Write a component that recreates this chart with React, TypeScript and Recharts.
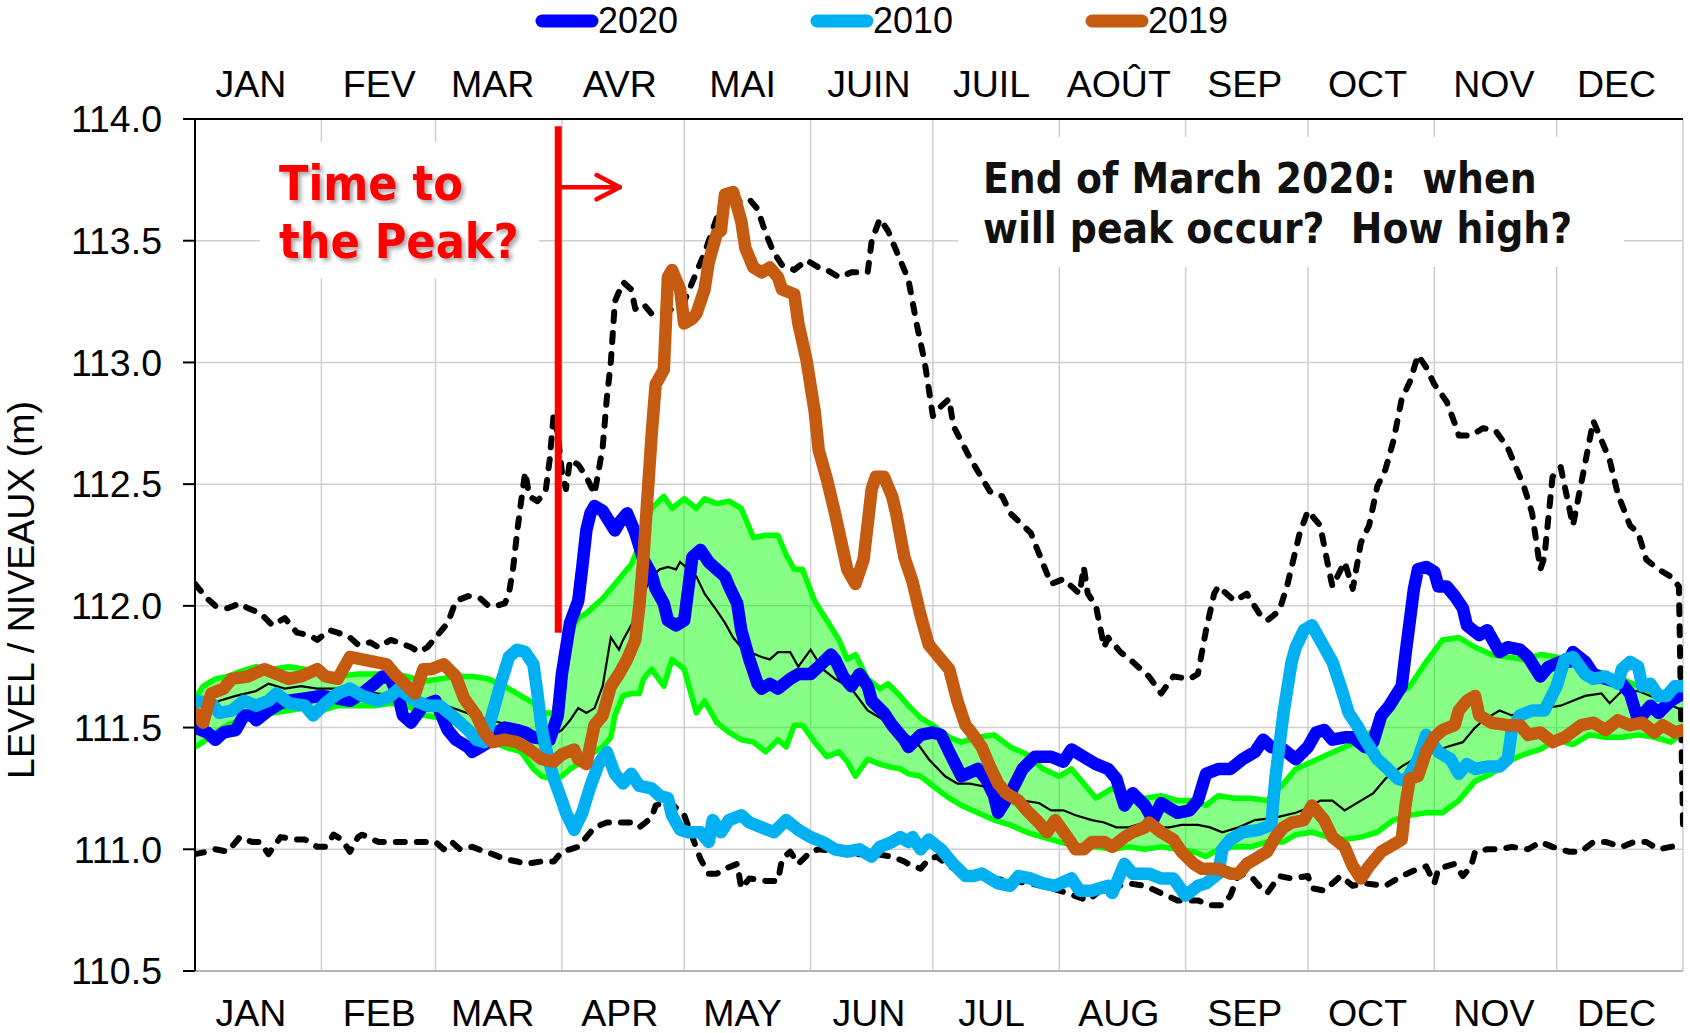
import {
  ComposedChart,
  Line,
  Area,
  XAxis,
  YAxis,
  CartesianGrid,
  ReferenceLine,
} from 'recharts'

// day-of-year axis
const monthStarts = [0, 31, 59, 90, 120, 151, 181, 212, 243, 273, 304, 334, 365]
// where the month names sit (roughly mid-month)
const labelDays = [13.7, 45.2, 73, 104.2, 134.3, 165.3, 195.4, 226.6, 257.5, 287.6, 318.6, 348.7]
const monthsEn = ['JAN', 'FEB', 'MAR', 'APR', 'MAY', 'JUN', 'JUL', 'AUG', 'SEP', 'OCT', 'NOV', 'DEC']
const monthsFr = ['JAN', 'FEV', 'MAR', 'AVR', 'MAI', 'JUIN', 'JUIL', 'AOÛT', 'SEP', 'OCT', 'NOV', 'DEC']
const levelTicks = [110.5, 111, 111.5, 112, 112.5, 113, 113.5, 114]

// [day, level m]
const maxLevel: [number, number][] = [
  [0, 112.09], [3, 112.03], [5, 112.0], [8, 111.99], [11, 112.01], [13, 111.99], [16, 111.97], [19, 111.92],
  [22, 111.95], [25, 111.89], [28, 111.88], [30, 111.86], [33, 111.9], [35, 111.89], [38, 111.87], [40, 111.84],
  [43, 111.85], [45, 111.83], [48, 111.86], [50, 111.85], [53, 111.83], [55, 111.81], [57, 111.83], [59, 111.87],
  [62, 111.93], [64, 112.02], [67, 112.04], [70, 112.03], [72, 112.0], [74, 112.0], [76, 112.01], [77, 112.05],
  [78, 112.15], [79, 112.3], [80, 112.43], [81, 112.55], [82, 112.45], [84, 112.43], [86, 112.47], [87, 112.6],
  [88, 112.79], [89, 112.7], [90, 112.55], [91, 112.48], [92, 112.6], [94, 112.58], [96, 112.53], [98, 112.46],
  [100, 112.65], [101, 112.85], [102, 113.0], [103, 113.25], [105, 113.33], [107, 113.3], [108, 113.22],
  [110, 113.24], [112, 113.2], [115, 113.2], [120, 113.25], [125, 113.45], [130, 113.69], [133, 113.66],
  [136, 113.67], [138, 113.63], [140, 113.53], [142, 113.45], [144, 113.4], [147, 113.38], [150, 113.42],
  [153, 113.39], [155, 113.38], [158, 113.35], [161, 113.37], [165, 113.37], [166, 113.5], [168, 113.59],
  [170, 113.54], [172, 113.46], [175, 113.34], [177, 113.16], [179, 113.0], [181, 112.78], [183, 112.82],
  [185, 112.85], [186, 112.74], [190, 112.61], [195, 112.47], [198, 112.45], [200, 112.38], [205, 112.3],
  [210, 112.09], [213, 112.11], [215, 112.08], [217, 112.05], [218, 112.16], [219, 112.05], [221, 112.0],
  [223, 111.83], [224, 111.87], [227, 111.81], [230, 111.77], [234, 111.71], [237, 111.64], [240, 111.71],
  [244, 111.7], [246, 111.72], [248, 111.9], [250, 112.05], [251, 112.08], [255, 112.02], [258, 112.05],
  [261, 111.97], [263, 111.94], [266, 111.98], [268, 112.09], [269, 112.16], [271, 112.3], [273, 112.39],
  [276, 112.33], [278, 112.16], [279, 112.08], [282, 112.18], [284, 112.07], [286, 112.26], [288, 112.33],
  [290, 112.49], [292, 112.56], [294, 112.68], [296, 112.85], [298, 112.92], [300, 113.03], [302, 112.98],
  [304, 112.91], [307, 112.84], [309, 112.75], [310, 112.7], [313, 112.7], [316, 112.73], [319, 112.72],
  [322, 112.65], [324, 112.57], [326, 112.49], [328, 112.38], [330, 112.15], [331, 112.2], [333, 112.53],
  [335, 112.57], [337, 112.41], [338, 112.33], [340, 112.5], [343, 112.76], [345, 112.68], [347, 112.6],
  [349, 112.46], [352, 112.33], [354, 112.3], [356, 112.19], [359, 112.15], [362, 112.12], [364, 112.08],
  [365, 111.1],
]

const minLevel: [number, number][] = [
  [0, 110.98], [3, 110.99], [5, 111.0], [8, 110.99], [11, 111.05], [14, 111.03], [16, 111.03], [18, 110.98],
  [21, 111.05], [25, 111.04], [27, 111.04], [30, 111.01], [32, 111.01], [34, 111.06], [36, 111.04], [38, 110.99],
  [40, 111.05], [41, 111.06], [45, 111.03], [50, 111.03], [56, 111.03], [59, 111.03], [61, 111.0], [63, 111.03],
  [65, 111.0], [68, 111.01], [71, 110.99], [73, 110.98], [76, 110.96], [79, 110.95], [81, 110.94], [85, 110.95],
  [88, 110.95], [90, 110.99], [94, 111.01], [96, 111.05], [98, 111.09], [101, 111.11], [104, 111.11],
  [107, 111.11], [109, 111.09], [112, 111.13], [113, 111.18], [116, 111.2], [120, 111.14], [122, 111.05],
  [124, 110.96], [126, 110.9], [128, 110.9], [130, 110.92], [133, 110.94], [134, 110.84], [136, 110.88],
  [140, 110.87], [143, 110.87], [144, 110.96], [146, 110.99], [148, 110.94], [151, 110.99], [153, 111.0],
  [158, 110.99], [163, 110.98], [167, 110.98], [171, 110.97], [174, 110.95], [175, 110.94], [178, 110.92],
  [180, 110.96], [182, 110.97], [185, 110.93], [190, 110.9], [195, 110.88], [200, 110.87], [205, 110.86],
  [210, 110.84], [214, 110.82], [219, 110.79], [222, 110.83], [229, 110.86], [233, 110.85], [237, 110.82],
  [241, 110.79], [244, 110.79], [246, 110.79], [249, 110.77], [252, 110.77], [254, 110.81], [256, 110.9],
  [259, 110.89], [261, 110.85], [263, 110.82], [266, 110.89], [269, 110.88], [273, 110.89], [274, 110.84],
  [277, 110.83], [281, 110.89], [284, 110.85], [287, 110.86], [292, 110.85], [296, 110.89], [300, 110.92],
  [302, 110.93], [304, 110.86], [305, 110.92], [309, 110.94], [311, 110.89], [313, 110.93], [314, 110.99],
  [317, 111.0], [320, 111.0], [323, 111.01], [327, 111.0], [330, 111.03], [333, 111.01], [337, 110.99],
  [340, 110.99], [343, 111.03], [346, 111.03], [350, 111.01], [353, 111.03], [356, 111.03], [359, 111.0],
  [362, 111.01], [365, 111.02],
]

const medianLevel: [number, number][] = [
  [0, 111.52], [3, 111.58], [6, 111.61], [10, 111.63], [15, 111.65], [18, 111.68], [22, 111.66], [26, 111.67],
  [30, 111.66], [35, 111.66], [40, 111.65], [45, 111.64], [50, 111.63], [55, 111.61], [60, 111.6], [65, 111.57],
  [70, 111.54], [75, 111.52], [80, 111.5], [85, 111.47], [88, 111.47], [90, 111.49], [92, 111.53], [94, 111.58],
  [96, 111.56], [98, 111.58], [100, 111.67], [102, 111.87], [104, 111.82], [105, 111.86], [107, 111.92],
  [110, 112.05], [112, 112.12], [114, 112.15], [116, 112.16], [118, 112.15], [119, 112.18], [121, 112.15],
  [123, 112.12], [125, 112.05], [128, 111.98], [130, 111.93], [132, 111.87], [134, 111.83], [136, 111.81],
  [139, 111.79], [141, 111.78], [143, 111.81], [146, 111.81], [148, 111.75], [151, 111.82], [154, 111.74],
  [157, 111.7], [161, 111.66], [165, 111.57], [169, 111.53], [173, 111.49], [177, 111.44], [180, 111.37],
  [184, 111.3], [187, 111.27], [190, 111.27], [193, 111.26], [198, 111.23], [203, 111.2], [207, 111.19],
  [210, 111.16], [213, 111.16], [216, 111.14], [220, 111.12], [223, 111.11], [226, 111.09], [229, 111.09],
  [233, 111.11], [236, 111.09], [239, 111.09], [242, 111.1], [246, 111.1], [249, 111.09], [252, 111.07],
  [256, 111.09], [260, 111.12], [265, 111.13], [270, 111.15], [273, 111.17], [276, 111.2], [279, 111.2],
  [282, 111.16], [286, 111.2], [289, 111.23], [292, 111.29], [296, 111.34], [300, 111.38], [304, 111.4],
  [307, 111.42], [311, 111.44], [314, 111.5], [316, 111.53], [320, 111.57], [323, 111.55], [327, 111.57],
  [331, 111.58], [335, 111.59], [338, 111.61], [341, 111.63], [345, 111.64], [347, 111.6], [350, 111.65],
  [354, 111.65], [357, 111.63], [361, 111.6], [365, 111.57],
]

// percentile band (upper / lower) on a shared day grid
const bandDays = [
  0, 2, 5, 8, 11, 15, 19, 23, 27, 31, 35, 40, 44, 48, 52, 56, 60, 64, 68, 72, 76, 80, 83, 85, 88, 90, 92, 94, 96,
  98, 100, 102, 103, 105, 107, 109, 110, 112, 115, 117, 120, 123, 125, 128, 131, 134, 137, 140, 143, 145, 147,
  149, 152, 155, 158, 160, 162, 165, 168, 170, 173, 175, 178, 181, 185, 188, 192, 196, 200, 204, 208, 212, 215,
  218, 221, 225, 229, 233, 237, 241, 245, 248, 251, 255, 259, 263, 267, 270, 274, 278, 282, 286, 290, 294, 298,
  302, 306, 310, 314, 318, 322, 326, 330, 334, 338, 342, 346, 350, 354, 358, 362, 365,
]
const bandUpper = [
  111.62, 111.67, 111.7, 111.71, 111.73, 111.75, 111.74, 111.75, 111.74, 111.72, 111.71, 111.72, 111.72, 111.72,
  111.71, 111.69, 111.7, 111.71, 111.71, 111.7, 111.67, 111.63, 111.6, 111.56, 111.56, 111.7, 111.89, 111.95,
  111.97, 112.0, 112.03, 112.07, 112.09, 112.13, 112.17, 112.25, 112.3, 112.4, 112.45, 112.4, 112.44, 112.4,
  112.44, 112.42, 112.43, 112.4, 112.28, 112.29, 112.29, 112.21, 112.15, 112.15, 112.02, 111.94, 111.86, 111.78,
  111.8, 111.7, 111.66, 111.68, 111.63, 111.59, 111.54, 111.51, 111.46, 111.44, 111.46, 111.47, 111.42, 111.39,
  111.33, 111.3, 111.33, 111.27, 111.21, 111.25, 111.21, 111.21, 111.22, 111.2, 111.2, 111.18, 111.22, 111.21,
  111.21, 111.2, 111.27, 111.33, 111.36, 111.39, 111.42, 111.45, 111.5, 111.62, 111.67, 111.77, 111.86, 111.87,
  111.83, 111.8, 111.79, 111.78, 111.8, 111.79, 111.76, 111.74, 111.72, 111.7, 111.67, 111.64, 111.61, 111.62,
]
const bandLower = [
  111.42, 111.44, 111.48, 111.51, 111.53, 111.55, 111.56, 111.57, 111.58, 111.57, 111.59, 111.59, 111.59, 111.6,
  111.59, 111.55, 111.54, 111.52, 111.49, 111.45, 111.42, 111.4, 111.33, 111.3, 111.29, 111.3, 111.33, 111.35,
  111.38, 111.4, 111.42, 111.46, 111.55, 111.63, 111.64, 111.64, 111.7, 111.74, 111.67, 111.78, 111.74, 111.56,
  111.61, 111.52, 111.48, 111.45, 111.44, 111.4, 111.45, 111.42, 111.51, 111.51, 111.44, 111.38, 111.4, 111.36,
  111.3, 111.37, 111.35, 111.34, 111.33, 111.31, 111.3, 111.26, 111.21, 111.18, 111.15, 111.12, 111.1, 111.07,
  111.05, 111.03, 111.02, 111.01, 111.01, 111.0, 111.01, 111.0, 111.01, 111.0, 110.99, 110.97, 111.0, 111.01,
  111.01, 111.03, 111.03, 111.06, 111.07, 111.05, 111.04, 111.05, 111.07, 111.12, 111.14, 111.15, 111.15, 111.2,
  111.28, 111.31, 111.36, 111.39, 111.41, 111.45, 111.43, 111.47, 111.46, 111.46, 111.47, 111.46, 111.44, 111.48,
]

const level2020: [number, number][] = [
  [0, 111.5], [3, 111.48], [5, 111.45], [7, 111.48], [10, 111.49], [12, 111.55], [14, 111.55], [15, 111.53],
  [18, 111.57], [21, 111.6], [23, 111.61], [27, 111.62], [31, 111.63], [35, 111.62], [38, 111.61], [41, 111.64],
  [44, 111.68], [46, 111.71], [48, 111.7], [50, 111.62], [51, 111.55], [53, 111.52], [56, 111.59], [59, 111.61],
  [62, 111.49], [64, 111.45], [67, 111.42], [68, 111.4], [70, 111.42], [72, 111.44], [74, 111.48], [76, 111.5],
  [79, 111.49], [81, 111.48], [83, 111.46], [87, 111.45], [89, 111.55], [90, 111.72], [92, 111.93], [94, 112.02],
  [95, 112.16], [96, 112.31], [97, 112.38], [98, 112.41], [100, 112.39], [103, 112.31], [104, 112.34],
  [106, 112.38], [108, 112.3], [110, 112.19], [112, 112.13], [113, 112.07], [115, 112.01], [116, 111.94],
  [118, 111.92], [120, 111.94], [121, 112.07], [122, 112.2], [124, 112.23], [126, 112.18], [128, 112.15],
  [130, 112.12], [131, 112.08], [133, 112.01], [134, 111.9], [136, 111.78], [138, 111.68], [139, 111.66],
  [141, 111.68], [143, 111.66], [146, 111.7], [148, 111.72], [151, 111.72], [153, 111.75], [156, 111.8],
  [157, 111.78], [159, 111.71], [161, 111.67], [163, 111.72], [165, 111.67], [166, 111.61], [169, 111.56],
  [171, 111.51], [174, 111.45], [175, 111.42], [178, 111.47], [181, 111.48], [183, 111.47], [185, 111.4],
  [188, 111.3], [192, 111.33], [194, 111.29], [196, 111.22], [197, 111.15], [200, 111.23], [203, 111.33],
  [206, 111.38], [210, 111.38], [213, 111.36], [215, 111.41], [218, 111.38], [221, 111.35], [224, 111.33],
  [226, 111.29], [228, 111.18], [230, 111.23], [233, 111.18], [235, 111.12], [237, 111.19], [241, 111.15],
  [244, 111.16], [246, 111.2], [248, 111.31], [251, 111.33], [254, 111.33], [257, 111.37], [260, 111.4],
  [262, 111.45], [264, 111.42], [267, 111.41], [270, 111.37], [273, 111.42], [275, 111.48], [277, 111.49],
  [279, 111.45], [282, 111.46], [284, 111.46], [287, 111.42], [289, 111.44], [291, 111.55], [293, 111.59],
  [296, 111.67], [297, 111.81], [298, 111.94], [299, 112.07], [300, 112.15], [302, 112.16], [304, 112.14],
  [305, 112.08], [307, 112.08], [309, 112.04], [311, 111.99], [312, 111.92], [315, 111.88], [317, 111.9],
  [320, 111.81], [322, 111.83], [325, 111.82], [327, 111.79], [330, 111.71], [332, 111.75], [335, 111.77],
  [337, 111.77], [338, 111.81], [341, 111.77], [343, 111.72], [346, 111.7], [350, 111.68], [352, 111.64],
  [354, 111.53], [357, 111.59], [359, 111.56], [362, 111.61], [365, 111.64],
]

const level2010: [number, number][] = [
  [0, 111.61], [4, 111.6], [6, 111.56], [9, 111.57], [12, 111.61], [15, 111.59], [18, 111.61], [20, 111.64],
  [23, 111.6], [27, 111.59], [29, 111.55], [32, 111.6], [35, 111.64], [38, 111.66], [41, 111.63], [45, 111.61],
  [48, 111.63], [50, 111.66], [54, 111.61], [57, 111.59], [60, 111.59], [63, 111.55], [67, 111.49], [69, 111.45],
  [71, 111.44], [73, 111.56], [75, 111.68], [77, 111.79], [79, 111.82], [81, 111.81], [83, 111.76], [84, 111.64],
  [85, 111.5], [86, 111.42], [88, 111.29], [90, 111.2], [91, 111.15], [93, 111.08], [95, 111.15], [97, 111.26],
  [99, 111.35], [101, 111.4], [103, 111.31], [105, 111.27], [107, 111.31], [109, 111.26], [112, 111.25],
  [114, 111.22], [116, 111.21], [117, 111.14], [119, 111.08], [121, 111.07], [124, 111.07], [126, 111.03],
  [127, 111.12], [129, 111.07], [131, 111.12], [134, 111.14], [136, 111.11], [139, 111.09], [142, 111.07],
  [145, 111.12], [148, 111.08], [151, 111.05], [154, 111.03], [157, 111.0], [160, 110.99], [163, 111.0],
  [166, 110.97], [168, 111.01], [171, 111.03], [173, 111.05], [175, 111.03], [176, 111.05], [178, 111.0],
  [180, 111.04], [183, 111.0], [186, 110.94], [189, 110.89], [191, 110.89], [193, 110.9], [197, 110.86],
  [200, 110.85], [202, 110.89], [205, 110.88], [208, 110.86], [211, 110.85], [215, 110.88], [217, 110.83],
  [220, 110.83], [224, 110.85], [225, 110.82], [228, 110.94], [230, 110.9], [234, 110.9], [237, 110.88],
  [240, 110.88], [243, 110.81], [246, 110.85], [248, 110.86], [251, 110.9], [252, 111.0], [254, 111.04],
  [257, 111.07], [261, 111.08], [264, 111.1], [265, 111.29], [267, 111.56], [269, 111.77], [270, 111.83],
  [272, 111.9], [274, 111.92], [276, 111.86], [279, 111.77], [281, 111.67], [283, 111.56], [285, 111.51],
  [287, 111.45], [290, 111.37], [292, 111.34], [295, 111.29], [297, 111.28], [300, 111.37], [302, 111.47],
  [305, 111.4], [308, 111.37], [310, 111.31], [312, 111.35], [314, 111.33], [317, 111.34], [320, 111.34],
  [322, 111.37], [323, 111.49], [325, 111.55], [328, 111.57], [331, 111.57], [334, 111.67], [336, 111.78],
  [338, 111.79], [341, 111.72], [343, 111.7], [346, 111.71], [349, 111.68], [350, 111.74], [352, 111.77],
  [354, 111.75], [355, 111.67], [357, 111.68], [359, 111.63], [361, 111.63], [363, 111.67], [365, 111.67],
]

const level2019: [number, number][] = [
  [0, 111.56], [2, 111.52], [4, 111.64], [7, 111.66], [9, 111.7], [13, 111.71], [17, 111.74], [20, 111.72],
  [23, 111.7], [26, 111.71], [30, 111.74], [32, 111.71], [35, 111.7], [38, 111.79], [41, 111.78], [44, 111.77],
  [47, 111.76], [49, 111.72], [52, 111.67], [54, 111.64], [56, 111.74], [58, 111.74], [61, 111.76], [64, 111.71],
  [66, 111.62], [69, 111.55], [71, 111.48], [73, 111.44], [76, 111.45], [79, 111.44], [82, 111.41], [85, 111.37],
  [88, 111.36], [90, 111.39], [93, 111.41], [94, 111.37], [96, 111.35], [98, 111.51], [100, 111.55],
  [102, 111.67], [104, 111.72], [106, 111.78], [108, 111.86], [109, 112.0], [110, 112.2], [111, 112.45],
  [112, 112.7], [113, 112.91], [115, 112.97], [116, 113.35], [117, 113.38], [119, 113.3], [120, 113.16],
  [122, 113.18], [123, 113.2], [125, 113.3], [126, 113.41], [128, 113.53], [129, 113.54], [130, 113.69],
  [132, 113.7], [134, 113.58], [135, 113.47], [137, 113.39], [139, 113.37], [141, 113.39], [143, 113.35],
  [144, 113.3], [147, 113.28], [148, 113.16], [150, 113.01], [152, 112.8], [153, 112.64], [155, 112.52],
  [157, 112.38], [160, 112.15], [162, 112.09], [164, 112.19], [166, 112.48], [167, 112.53], [169, 112.53],
  [171, 112.45], [172, 112.38], [174, 112.2], [176, 112.1], [178, 111.96], [180, 111.84], [183, 111.78],
  [185, 111.74], [187, 111.61], [189, 111.51], [190, 111.49], [193, 111.42], [195, 111.34], [197, 111.27],
  [199, 111.23], [202, 111.2], [204, 111.16], [207, 111.11], [209, 111.07], [211, 111.12], [214, 111.05],
  [216, 111.0], [218, 111.0], [220, 111.03], [223, 111.03], [225, 111.01], [228, 111.05], [230, 111.07],
  [233, 111.09], [234, 111.11], [237, 111.07], [240, 111.04], [242, 110.99], [245, 110.94], [247, 110.92],
  [251, 110.92], [254, 110.9], [256, 110.9], [258, 110.94], [260, 110.96], [263, 110.99], [265, 111.05],
  [267, 111.09], [269, 111.11], [272, 111.12], [274, 111.18], [277, 111.12], [279, 111.05], [282, 111.01],
  [284, 110.93], [286, 110.88], [288, 110.93], [291, 110.99], [293, 111.01], [296, 111.04], [297, 111.19],
  [298, 111.29], [300, 111.3], [302, 111.4], [304, 111.46], [306, 111.49], [309, 111.51], [310, 111.57],
  [312, 111.61], [314, 111.63], [315, 111.55], [318, 111.52], [322, 111.51], [325, 111.51], [327, 111.47],
  [330, 111.48], [333, 111.44], [336, 111.46], [340, 111.51], [343, 111.52], [346, 111.49], [349, 111.53],
  [352, 111.51], [355, 111.52], [358, 111.48], [360, 111.51], [363, 111.48], [365, 111.49],
]

// "now" marker (end of March) and the arrow level
const markerDay = 89.1
const markerSpan = [111.89, 113.97]
const arrowLevel = 113.72
const arrowTipDay = 104.2

const years = [
  { name: '2020', color: '#0000ff', data: level2020 },
  { name: '2010', color: '#00b0f0', data: level2010 },
  { name: '2019', color: '#c55a11', data: level2019 },
]

const FONT = '"Liberation Sans", Arial, sans-serif'
const NOTE_FONT = '"DejaVu Sans Condensed", "DejaVu Sans", sans-serif'
const GRID = '#cfcfcf'
const LABEL_SIZE = 37.5

const toRows = (pts: [number, number][]) => pts.map(([d, v]) => ({ d, v }))
const bandRows = bandDays.map((d, i) => ({ d, lo: bandLower[i], hi: bandUpper[i] }))

const tickStyle = { fontSize: LABEL_SIZE, fill: '#000', fontFamily: FONT }

// month-start gridlines, placed with the x axis scale
const monthGrid = ({ xAxis, offset }: any) =>
  monthStarts.map((d) =>
    xAxis && typeof xAxis.scale === 'function'
      ? xAxis.scale(d)
      : offset.left + (d / 365) * offset.width,
  )

export default function App() {
  return (
    <div style={{ position: 'absolute', left: 0, top: 0, width: 1690, height: 1033, background: '#fff' }}>
      <ComposedChart
        width={1690}
        height={1033}
        margin={{ top: 59, right: 7, bottom: 12, left: 75 }}
        style={{ fontFamily: FONT }}
      >
        <XAxis
          dataKey="d"
          type="number"
          domain={[0, 365]}
          ticks={labelDays}
          interval={0}
          allowDataOverflow
          height={50}
          tickLine={false}
          tickSize={0}
          tickMargin={28}
          axisLine={{ stroke: '#b4b4b4', strokeWidth: 2 }}
          tick={tickStyle}
          tickFormatter={(v: number) => monthsEn[labelDays.indexOf(v)] ?? ''}
        />
        <XAxis
          xAxisId="fr"
          dataKey="d"
          type="number"
          orientation="top"
          domain={[0, 365]}
          ticks={labelDays}
          interval={0}
          allowDataOverflow
          height={60}
          tickLine={false}
          tickSize={0}
          tickMargin={22}
          axisLine={{ stroke: '#000', strokeWidth: 2 }}
          tick={tickStyle}
          tickFormatter={(v: number) => monthsFr[labelDays.indexOf(v)] ?? ''}
        />
        <YAxis
          type="number"
          domain={[110.5, 114]}
          ticks={levelTicks}
          interval={0}
          allowDataOverflow
          width={120}
          tickSize={12}
          tickMargin={21}
          axisLine={{ stroke: '#000', strokeWidth: 2 }}
          tickLine={{ stroke: '#000', strokeWidth: 2 }}
          tick={tickStyle}
          tickFormatter={(v: number) => v.toFixed(1)}
        />
        <CartesianGrid stroke={GRID} strokeWidth={1.5} verticalCoordinatesGenerator={monthGrid} />

        <Area
          data={bandRows}
          dataKey={(r: { lo: number; hi: number }) => [r.lo, r.hi]}
          type="linear"
          stroke="none"
          fill="#00ff00"
          fillOpacity={0.47}
          isAnimationActive={false}
          activeDot={false}
        />
        <Line data={bandRows} dataKey="hi" type="linear" stroke="#00ff00" strokeWidth={5.5} strokeLinejoin="round" dot={false} activeDot={false} isAnimationActive={false} />
        <Line data={bandRows} dataKey="lo" type="linear" stroke="#00ff00" strokeWidth={5.5} strokeLinejoin="round" dot={false} activeDot={false} isAnimationActive={false} />
        <Line data={toRows(medianLevel)} dataKey="v" type="linear" stroke="#000" strokeWidth={2.2} dot={false} activeDot={false} isAnimationActive={false} />
        {[maxLevel, minLevel].map((s, i) => (
          <Line
            key={`env-${i}`}
            data={toRows(s)}
            dataKey="v"
            type="linear"
            stroke="#000"
            strokeWidth={6}
            strokeDasharray="9 12"
            strokeLinecap="round"
            strokeLinejoin="round"
            dot={false}
            activeDot={false}
            isAnimationActive={false}
          />
        ))}
        {years.map((y) => (
          <Line
            key={y.name}
            data={toRows(y.data)}
            dataKey="v"
            name={y.name}
            type="linear"
            stroke={y.color}
            strokeWidth={12.5}
            strokeLinejoin="round"
            strokeLinecap="round"
            dot={false}
            activeDot={false}
            isAnimationActive={false}
          />
        ))}

        <ReferenceLine
          segment={[{ x: markerDay, y: markerSpan[0] }, { x: markerDay, y: markerSpan[1] }]}
          stroke="#ff0000"
          strokeWidth={7}
          ifOverflow="visible"
        />
        <ReferenceLine
          segment={[{ x: markerDay, y: arrowLevel }, { x: arrowTipDay, y: arrowLevel }]}
          stroke="#ff0000"
          strokeWidth={4.5}
          ifOverflow="visible"
        />
        <ReferenceLine
          segment={[{ x: arrowTipDay - 5.7, y: arrowLevel + 0.05 }, { x: arrowTipDay, y: arrowLevel }]}
          stroke="#ff0000"
          strokeWidth={4.5}
          strokeLinecap="round"
          ifOverflow="visible"
        />
        <ReferenceLine
          segment={[{ x: arrowTipDay - 5.7, y: arrowLevel - 0.05 }, { x: arrowTipDay, y: arrowLevel }]}
          stroke="#ff0000"
          strokeWidth={4.5}
          strokeLinecap="round"
          ifOverflow="visible"
        />
      </ComposedChart>

      {/* legend, axis title and the two notes */}
      <svg
        width={1690}
        height={1033}
        style={{ position: 'absolute', left: 0, top: 0, pointerEvents: 'none' }}
      >
        {years.map((y, i) => {
          const x0 = 536 + i * 275
          return (
            <g key={y.name}>
              <line x1={x0 + 6} x2={x0 + 56} y1={21} y2={21} stroke={y.color} strokeWidth={13} strokeLinecap="round" />
              <text x={x0 + 62} y={33} fontSize={36} fontFamily={FONT} fill="#000">
                {y.name}
              </text>
            </g>
          )
        })}

        <text
          transform="translate(21,590) rotate(-90)"
          y={13}
          textAnchor="middle"
          fontSize={LABEL_SIZE}
          fontFamily={FONT}
          fill="#000"
        >
          LEVEL / NIVEAUX (m)
        </text>

        <rect x={260} y={142} width={279} height={136} fill="#fff" />
        <g
          fontFamily={NOTE_FONT}
          fontWeight="bold"
          fontSize={48}
          fill="#ff0000"
          style={{ filter: 'drop-shadow(3px 3px 2px rgba(0,0,0,0.35))' }}
        >
          <text x={279} y={200}>Time to</text>
          <text x={279} y={258}>the Peak?</text>
        </g>

        <rect x={958} y={137} width={666} height={130} fill="#fff" />
        <g fontFamily={NOTE_FONT} fontWeight="bold" fontSize={42} fill="#111">
          <text x={983} y={193} xmlSpace="preserve" style={{ whiteSpace: 'pre' }}>
            {'End of March 2020:  when'}
          </text>
          <text x={983} y={243} xmlSpace="preserve" style={{ whiteSpace: 'pre' }}>
            {'will peak occur?  How high?'}
          </text>
        </g>
      </svg>
    </div>
  )
}
